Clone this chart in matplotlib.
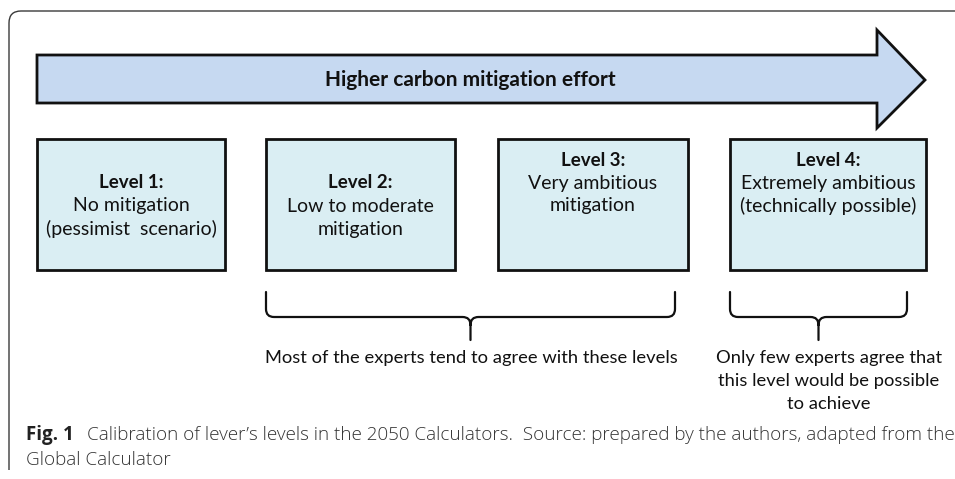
import matplotlib
matplotlib.use("Agg")
import matplotlib.pyplot as plt
from matplotlib.patches import Polygon, Rectangle, PathPatch
from matplotlib.path import Path

# ---- content ----
arrow_title = "Higher carbon mitigation effort"
level_titles = ["Level 1:", "Level 2:", "Level 3:", "Level 4:"]
level_texts = [
    ["No mitigation", "(pessimist  scenario)"],
    ["Low to moderate", "mitigation"],
    ["Very ambitious", "mitigation"],
    ["Extremely ambitious", "(technically possible)"],
]
brace_texts = [
    ["Most of the experts tend to agree with these levels"],
    ["Only few experts agree that", "this level would be possible", "to achieve"],
]
caption_bold = "Fig. 1"
caption_line1 = "Calibration of lever\u2019s levels in the 2050 Calculators.  Source: prepared by the authors, adapted from the"
caption_line2 = "Global Calculator"

# ---- layout (pixel space) ----
box_left = [37, 266, 498, 730]
box_right = [225, 455, 688, 926]
box_top, box_bottom = 139, 270
text_top = [183, 183, 160, 160]
line_gap = 23
brace_spans = [(266, 675), (730, 907)]
brace_top, brace_mid, brace_tip = 292, 317, 340

W, H = 955, 479
fig = plt.figure(figsize=(W / 100, H / 100), dpi=100)
ax = fig.add_axes([0, 0, 1, 1])
ax.set_xlim(0, W)
ax.set_ylim(H, 0)
ax.axis("off")

FONT = ["Lato", "DejaVu Sans"]
CAPFONT = ["Open Sans", "DejaVu Sans"]
INK = "#111111"

# frame (rounded top-left corner)
r = 12
fx, fy = 9, 11
verts = [(fx, 470), (fx, fy + r), (fx, fy), (fx + r, fy), (W + 5, fy)]
codes = [Path.MOVETO, Path.LINETO, Path.CURVE3, Path.CURVE3, Path.LINETO]
ax.add_patch(PathPatch(Path(verts, codes), fill=False, ec="#3a3a3a", lw=1.0))

# big arrow
arrow = Polygon([(37, 55), (877, 55), (877, 30), (925, 80), (877, 128),
                 (877, 103), (37, 103)], closed=True, fc="#c6d9f1", ec=INK, lw=2.0,
                joinstyle="miter")
ax.add_patch(arrow)
ax.text(470, 80, arrow_title, ha="center", va="center", fontsize=15,
        fontweight="bold", family=FONT, color=INK)

# level boxes
for i in range(4):
    ax.add_patch(Rectangle((box_left[i], box_top), box_right[i] - box_left[i],
                           box_bottom - box_top, fc="#daeef3", ec=INK, lw=2.0))
    cx = (box_left[i] + box_right[i]) / 2
    ax.text(cx, text_top[i], level_titles[i], ha="center", va="center",
            fontsize=13.5, fontweight="bold", family=FONT, color=INK)
    for j, t in enumerate(level_texts[i]):
        ax.text(cx, text_top[i] + line_gap * (j + 1), t, ha="center", va="center",
                fontsize=14, family=FONT, color=INK)


def brace(x0, x1):
    xc = (x0 + x1) / 2
    c = 8
    v = [(x0, brace_top), (x0, brace_mid - c), (x0, brace_mid), (x0 + c, brace_mid),
         (xc - c, brace_mid), (xc, brace_mid), (xc, brace_mid + c), (xc, brace_tip),
         (xc, brace_mid + c), (xc, brace_mid), (xc + c, brace_mid),
         (x1 - c, brace_mid), (x1, brace_mid), (x1, brace_mid - c), (x1, brace_top)]
    cd = [Path.MOVETO, Path.LINETO, Path.CURVE3, Path.CURVE3,
          Path.LINETO, Path.CURVE3, Path.CURVE3, Path.LINETO,
          Path.MOVETO, Path.CURVE3, Path.CURVE3,
          Path.LINETO, Path.CURVE3, Path.CURVE3, Path.LINETO]
    ax.add_patch(PathPatch(Path(v, cd), fill=False, ec=INK, lw=1.6,
                           capstyle="round"))
    return xc


brace_text_x = [471, 829]
for k, (x0, x1) in enumerate(brace_spans):
    brace(x0, x1)
    for j, t in enumerate(brace_texts[k]):
        ax.text(brace_text_x[k], 358 + line_gap * j, t, ha="center", va="center",
                fontsize=13.2, family=FONT, color=INK)

# caption
t1 = ax.text(26, 435, caption_bold, ha="left", va="center", fontsize=13.5,
             fontweight="bold", family=CAPFONT, color="#222222")
fig.canvas.draw()
bb = t1.get_window_extent()
x_after = bb.x1 + 13
inv = ax.transData.inverted()
xd = inv.transform((x_after, 0))[0]
ax.text(xd, 435, caption_line1, ha="left", va="center", fontsize=13.6,
        family=CAPFONT, fontweight="light", color="#333333")
ax.text(26, 460, caption_line2, ha="left", va="center", fontsize=13.6,
        family=CAPFONT, fontweight="light", color="#333333")

fig.savefig("out.png", dpi=100)
